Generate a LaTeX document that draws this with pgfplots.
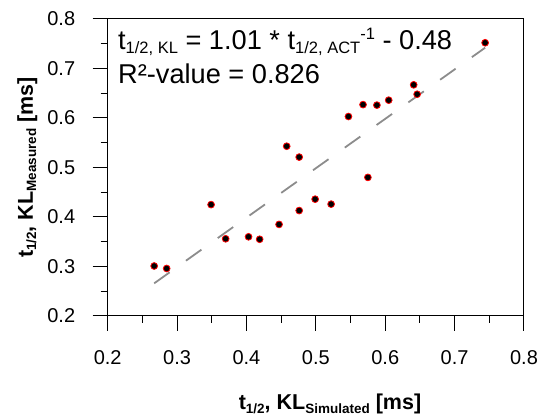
\documentclass[border=0pt]{standalone}
\usepackage{fontspec}
\setmainfont{Liberation Sans}
\usepackage{pgfplots}
\pgfplotsset{compat=1.18}
\newcommand{\lsub}[1]{\raisebox{-0.28ex}{\fontsize{16.5}{16}\selectfont #1}}
\newcommand{\lsup}[1]{\raisebox{0.75ex}{\fontsize{16.5}{16}\selectfont #1}}
\newcommand{\bsub}[1]{\raisebox{-0.3ex}{\fontsize{13.5}{13}\selectfont\bfseries #1}}
\begin{document}
\begin{tikzpicture}
\useasboundingbox (-107.7pt,-101pt) rectangle (431.3pt,316pt);
\begin{axis}[
  scale only axis,
  width=416.3pt, height=297pt,
  xmin=0.2, xmax=0.8, ymin=0.2, ymax=0.8,
  xtick={0.2,0.3,0.4,0.5,0.6,0.7,0.8},
  ytick={0.2,0.3,0.4,0.5,0.6,0.7,0.8},
  xticklabels={0.2,0.3,0.4,0.5,0.6,0.7,0.8},
  yticklabels={0.2,0.3,0.4,0.5,0.6,0.7,0.8},
  minor tick num=1,
  tick align=outside,
  xtick pos=bottom, ytick pos=left,
  major tick length=15pt, minor tick length=7pt,
  axis line style={line width=1pt, black},
  tick style={line width=1pt, black},
  tick label style={font=\fontsize{20}{24}\selectfont},
  xticklabel style={yshift=-16pt},
  yticklabel style={xshift=-14pt},
  xlabel={\textbf{t\bsub{1/2}, KL\bsub{Simulated} [ms]}},
  ylabel={\textbf{t\bsub{1/2}, KL\bsub{Measured} [ms]}},
  label style={font=\fontsize{21.5}{24}\selectfont\bfseries},
  xlabel style={at={(axis description cs:0.534,-0.3165)}, anchor=base},
  ylabel style={at={(axis description cs:-0.18,0.5)}, anchor=base, rotate=0},
  clip=false,
]
\addplot[draw=gray!90, line width=1.8pt, dash pattern=on 19pt off 20pt]
  coordinates {(0.267,0.266) (0.744,0.742)};
\addplot[only marks, mark=*, mark size=3.4pt,
  mark options={fill=black, draw=red, line width=0.8pt}]
  coordinates {
  (0.267,0.301) (0.285,0.296) (0.349,0.425) (0.370,0.356)
  (0.403,0.360) (0.419,0.355) (0.447,0.385) (0.458,0.543)
  (0.476,0.521) (0.476,0.413) (0.499,0.436) (0.522,0.426)
  (0.547,0.603) (0.568,0.627) (0.575,0.480) (0.588,0.626)
  (0.605,0.636) (0.641,0.667) (0.646,0.648) (0.744,0.752)
  };
\node[anchor=base west, font=\fontsize{27.2}{30}\selectfont, inner sep=0pt]
  at (axis cs:0.2148,0.7376) {t\lsub{1/2, KL} = 1.01 * t\lsub{1/2, ACT}\lsup{-1} - 0.48};
\node[anchor=base west, font=\fontsize{27.2}{30}\selectfont, inner sep=0pt]
  at (axis cs:0.2148,0.669) {R²-value = 0.826};
\end{axis}
\end{tikzpicture}
\end{document}
